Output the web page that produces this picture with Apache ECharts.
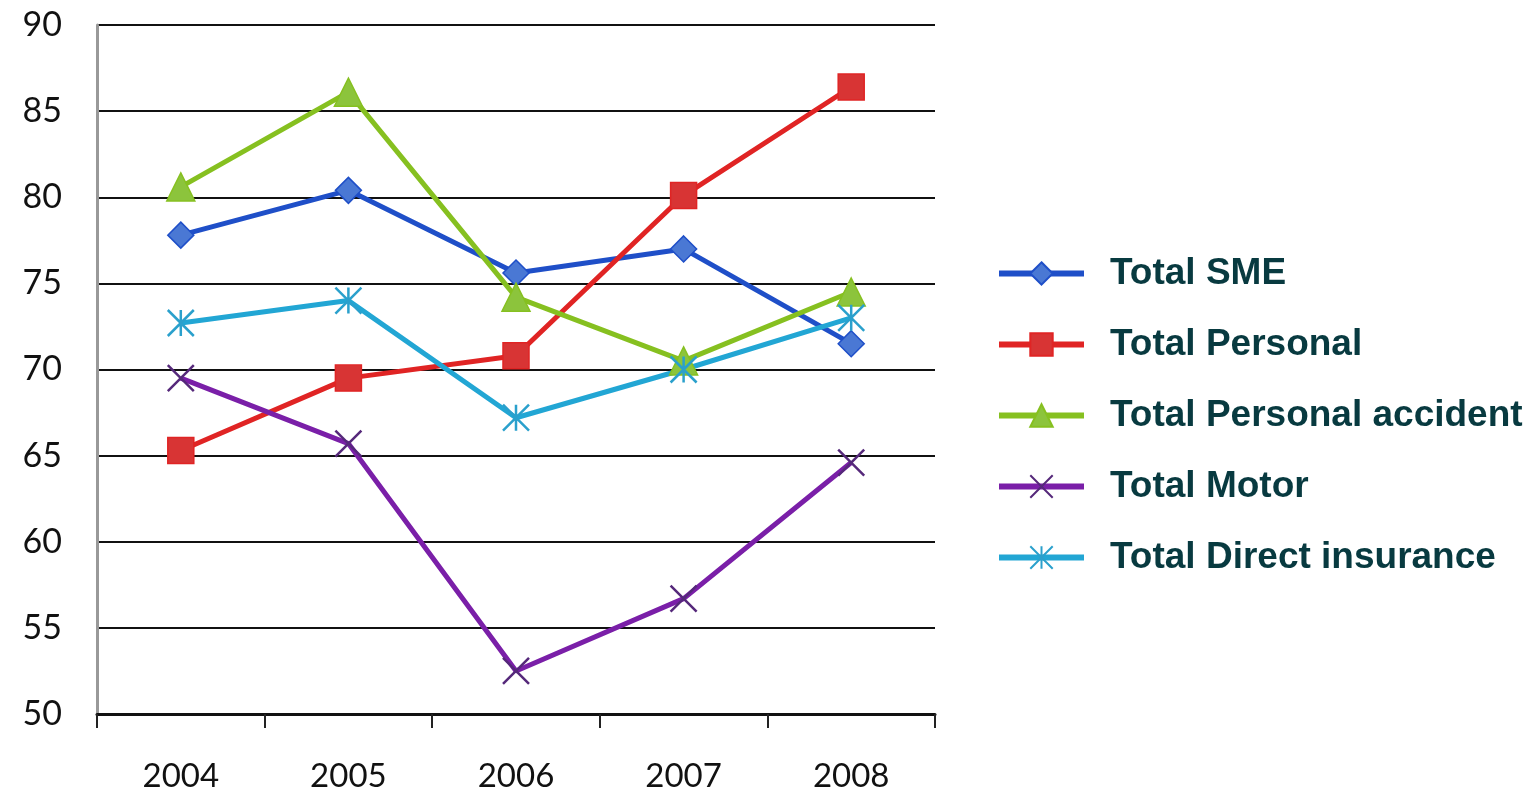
<!DOCTYPE html>
<html><head><meta charset="utf-8">
<script src="https://cdn.jsdelivr.net/npm/echarts@6/dist/echarts.min.js"></script>
<style>html,body{margin:0;padding:0;background:#fff}#c{width:1539px;height:795px}</style>
</head><body><div id="c"></div>
<script>
var categories = ['2004','2005','2006','2007','2008'];
var sme = [77.8, 80.4, 75.6, 77.0, 71.5];
var personal = [65.3, 69.5, 70.8, 80.1, 86.4];
var accident = [80.6, 86.1, 74.2, 70.5, 74.5];
var motor = [69.5, 65.7, 52.5, 56.7, 64.6];
var direct = [72.7, 74.0, 67.2, 70.0, 73.0];
var names = ['Total SME','Total Personal','Total Personal accident','Total Motor','Total Direct insurance'];

var xPath = 'path://M0,0 L20,20 M20,0 L0,20';
var starPath = 'path://M0,0 L20,20 M20,0 L0,20 M10,0 L10,20';

function mk(name, data, color, fill, symbol, size, extra) {
  var s = {
    name: name, type: 'line', data: data, symbol: symbol, symbolSize: size,
    lineStyle: {color: color, width: 5},
    itemStyle: {color: fill, borderColor: color, borderWidth: 1.5},
    z: 3
  };
  if (extra) { s.itemStyle = extra; }
  return s;
}

var chart = echarts.init(document.getElementById('c'));
chart.setOption({
  animation: false,
  grid: {left: 97, right: 604, top: 25, bottom: 81},
  legend: {
    orient: 'vertical', left: 991, top: 250, itemGap: 34,
    itemWidth: 85, itemHeight: 28,
    lineStyle: {width: 6},
    textStyle: {fontFamily: 'Liberation Sans', fontWeight: 'bold', fontSize: 37, color: '#083a40', padding: [0,0,0,21]},
    data: names
  },
  xAxis: {
    type: 'category', data: categories, boundaryGap: true,
    axisLine: {lineStyle: {color: '#111', width: 3}},
    axisTick: {show: true, length: 14, lineStyle: {color: '#222', width: 2}},
    axisLabel: {margin: 46, fontFamily: 'Lato', fontSize: 33, color: '#111'}
  },
  yAxis: {
    type: 'value', min: 50, max: 90, interval: 5,
    axisLine: {show: true, lineStyle: {color: '#999', width: 3}},
    axisTick: {show: false},
    splitLine: {lineStyle: {color: '#111', width: 2}},
    axisLabel: {margin: 35, fontFamily: 'Lato', fontSize: 34, color: '#111'}
  },
  series: [
    mk(names[0], sme, '#1f4fc8', '#4a78d4', 'diamond', 26),
    mk(names[1], personal, '#e02424', '#d83434', 'rect', 26),
    mk(names[2], accident, '#86c020', '#8cc43c', 'triangle', 28),
    mk(names[3], motor, '#7a1fa8', '#7a1fa8', xPath, 26, {color: 'rgba(0,0,0,0)', borderColor: '#55287a', borderWidth: 2.5}),
    mk(names[4], direct, '#22a6d4', '#22a6d4', starPath, 26, {color: 'rgba(0,0,0,0)', borderColor: '#2aa0cc', borderWidth: 2.5})
  ]
});
</script></body></html>
